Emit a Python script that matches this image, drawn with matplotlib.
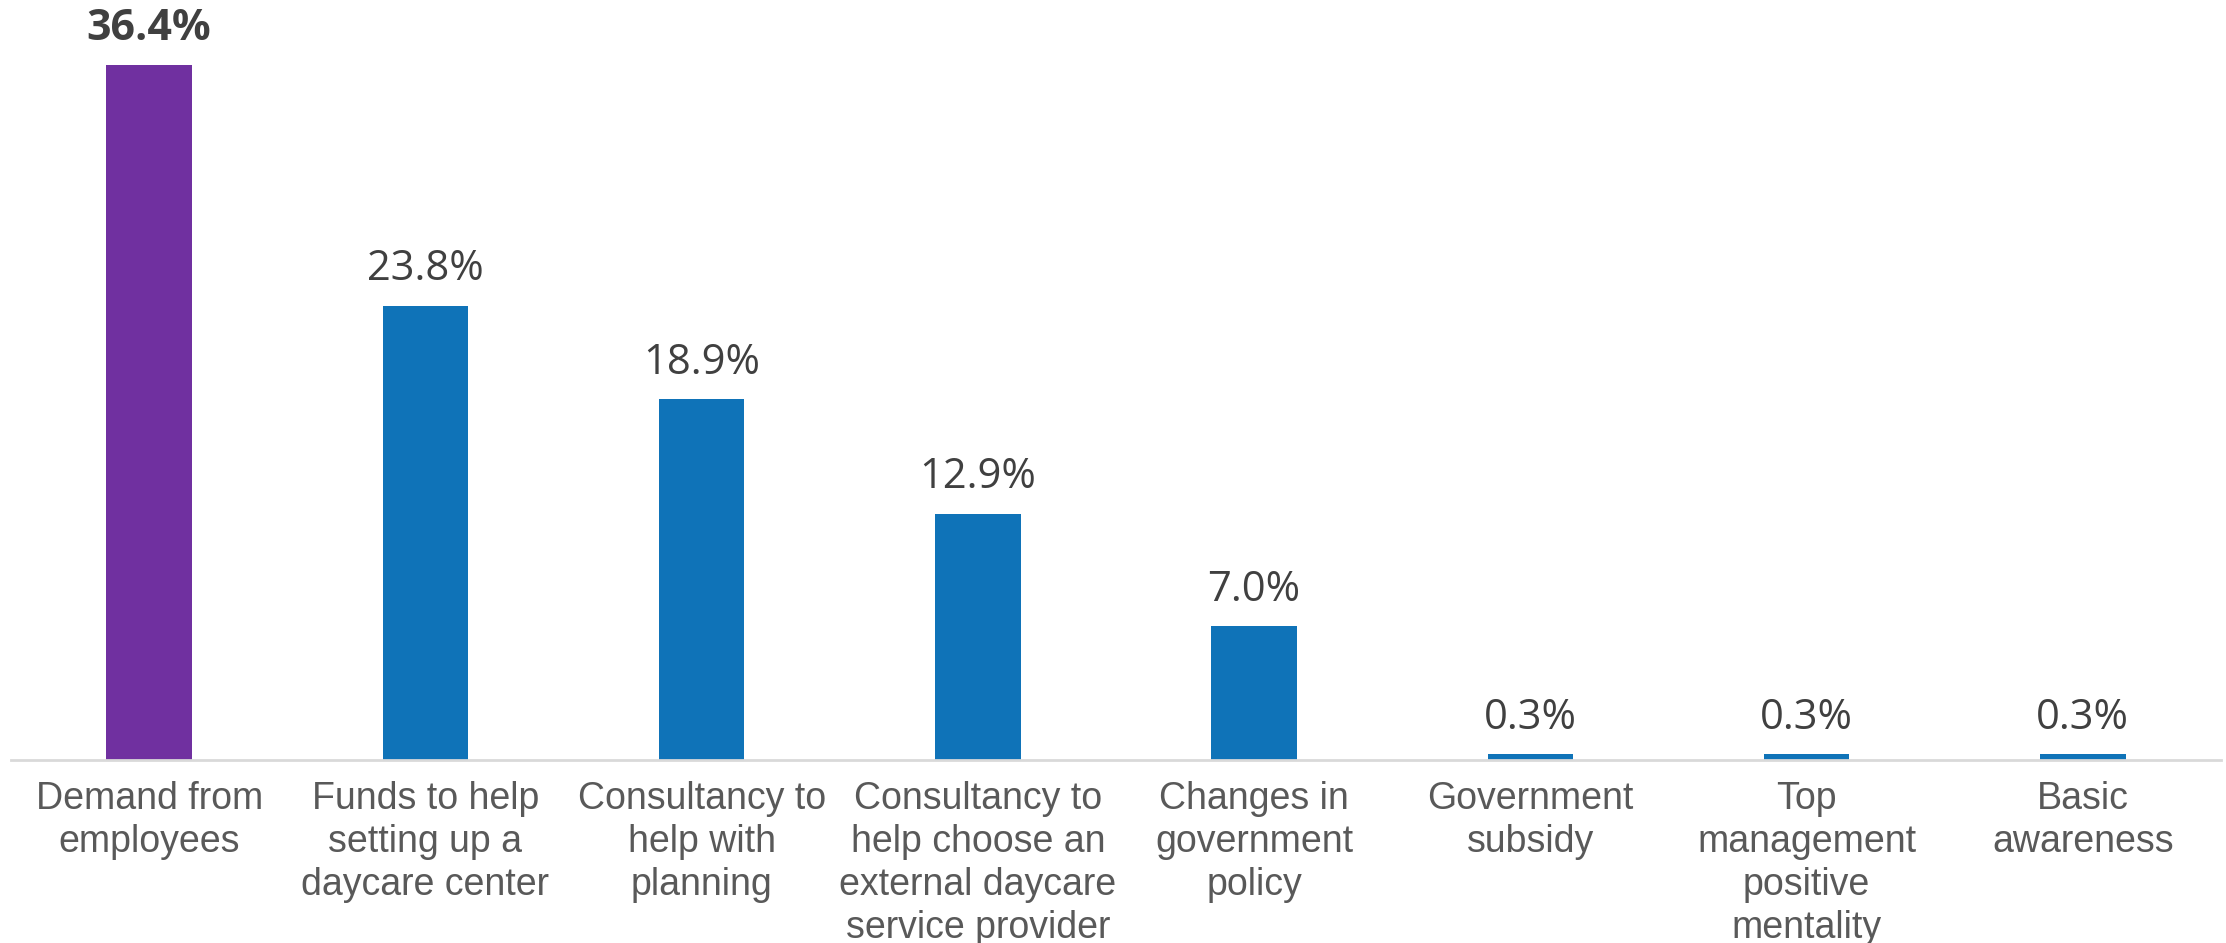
import matplotlib
matplotlib.use("Agg")
import matplotlib.pyplot as plt

categories = [
    "Demand from\nemployees",
    "Funds to help\nsetting up a\ndaycare center",
    "Consultancy to\nhelp with\nplanning",
    "Consultancy to\nhelp choose an\nexternal daycare\nservice provider",
    "Changes in\ngovernment\npolicy",
    "Government\nsubsidy",
    "Top\nmanagement\npositive\nmentality",
    "Basic\nawareness",
]
values = [36.4, 23.8, 18.9, 12.9, 7.0, 0.3, 0.3, 0.3]
value_labels = ["36.4%", "23.8%", "18.9%", "12.9%", "7.0%", "0.3%", "0.3%", "0.3%"]

PURPLE = "#7030A0"
BLUE = "#0F73B8"
colors = [PURPLE] + [BLUE] * (len(values) - 1)

W, H = 2226, 943
fig = plt.figure(figsize=(W / 100, H / 100), dpi=100)
ax_left, ax_right = 11, 2221
ax_bottom_px, ax_top_px = 760, 0
ax = fig.add_axes([ax_left / W, (H - ax_bottom_px) / H, (ax_right - ax_left) / W, (ax_bottom_px - ax_top_px) / H])

x = list(range(len(values)))
ax.bar(x, values, width=0.31, color=colors, zorder=2)
ax.set_xlim(-0.5, len(values) - 0.5)
ax.set_ylim(0, 36.4 * 760 / 695)

for i, (v, lab) in enumerate(zip(values, value_labels)):
    ax.annotate(lab, (i, v), xytext=(0, 11), textcoords="offset points",
                ha="center", va="bottom", fontsize=30 if i else 31,
                fontweight="bold" if i == 0 else "normal",
                color="#404040", family=["Open Sans", "DejaVu Sans"])

for s in ["top", "right", "left"]:
    ax.spines[s].set_visible(False)
ax.spines["bottom"].set_color("#D9D9D9")
ax.spines["bottom"].set_linewidth(2)
ax.set_yticks([])
ax.set_xticks(x)
ax.set_xticklabels(categories, fontsize=27, color="#595959",
                   family=["Liberation Sans", "DejaVu Sans"], linespacing=1.25, va="top")
ax.tick_params(axis="x", length=0, pad=15)

fig.savefig("out.png", dpi=100)
